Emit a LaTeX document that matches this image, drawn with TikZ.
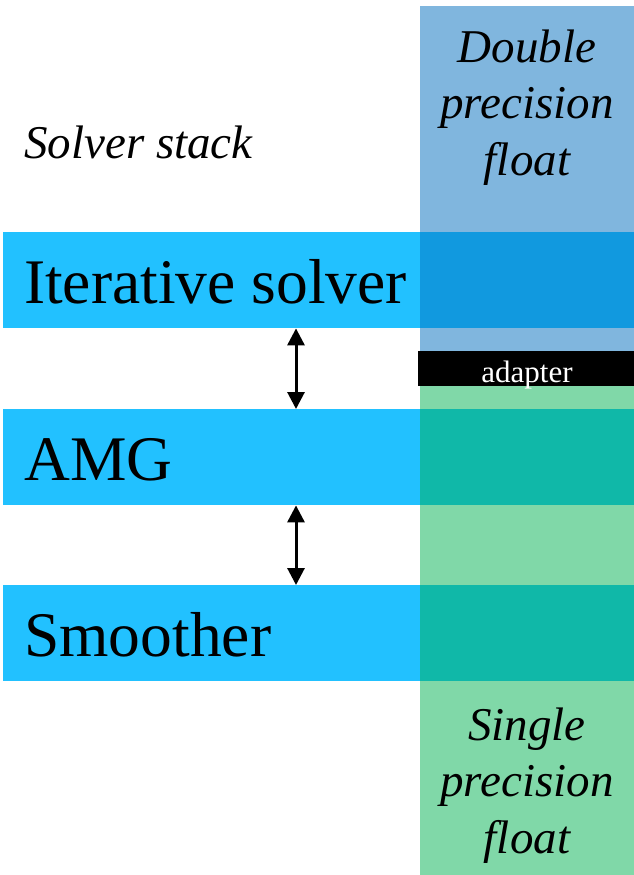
\documentclass[tikz,border=0pt]{standalone}
\usepackage{fontspec}
\setmainfont{Liberation Serif}
\usetikzlibrary{arrows.meta}
\definecolor{barblue}{HTML}{22C1FF}
\definecolor{dblcol}{HTML}{80B6DE}
\definecolor{dbldark}{HTML}{1199DF}
\definecolor{sglcol}{HTML}{80D8A8}
\definecolor{sgldark}{HTML}{10B8A8}
\tikzset{
  layerbar/.style={fill=barblue, draw=none, minimum width=631pt, minimum height=96pt, inner sep=0pt, anchor=north west},
  layerlabel/.style={anchor=base west, inner sep=0pt, font=\fontsize{63.5}{63.5}\selectfont},
  italabel/.style={font=\fontsize{47}{56.5}\selectfont\itshape, align=center, inner sep=0pt},
  link/.style={{Triangle[length=17pt,width=17pt]}-{Triangle[length=17pt,width=17pt]}, line width=3pt}
}
\begin{document}
\begin{tikzpicture}[x=1pt,y=-1pt]
\useasboundingbox (0,0) rectangle (634,875);
% precision columns
\fill[dblcol] (420,6) rectangle (634,351);
\fill[sglcol] (420,386) rectangle (634,875);
% solver layers
\node[layerbar] (iter) at (3,232) {};
\node[layerbar] (amg) at (3,409) {};
\node[layerbar] (smooth) at (3,585) {};
\fill[dbldark] (420,232) rectangle (634,328);
\fill[sgldark] (420,409) rectangle (634,505);
\fill[sgldark] (420,585) rectangle (634,681);
% adapter between precisions
\node[fill=black, minimum width=216pt, minimum height=35pt, inner sep=0pt, anchor=north west] (adapter) at (418,351) {};
\node[anchor=base, inner sep=0pt, text=white, font=\fontsize{31}{31}\selectfont] (adapterlbl) at (527,382) {adapter};
% labels
\node[layerlabel] (iterlbl) at (24,303) {Iterative solver};
\node[layerlabel] (amglbl) at (24,480) {AMG};
\node[layerlabel] (smoothlbl) at (24,656) {Smoother};
\node[anchor=base west, inner sep=0pt, font=\fontsize{47}{47}\selectfont\itshape] (stack) at (24,158) {Solver stack};
\node[italabel, anchor=base] (dbl) at (527,175) {Double\\precision\\float};
\node[italabel, anchor=base] (sgl) at (527,853) {Single\\precision\\float};
% interfaces between layers
\coordinate (ax) at (296,0);
\draw[link] (iter.south -| ax) -- (amg.north -| ax);
\draw[link] (amg.south -| ax) -- (smooth.north -| ax);
\end{tikzpicture}
\end{document}
